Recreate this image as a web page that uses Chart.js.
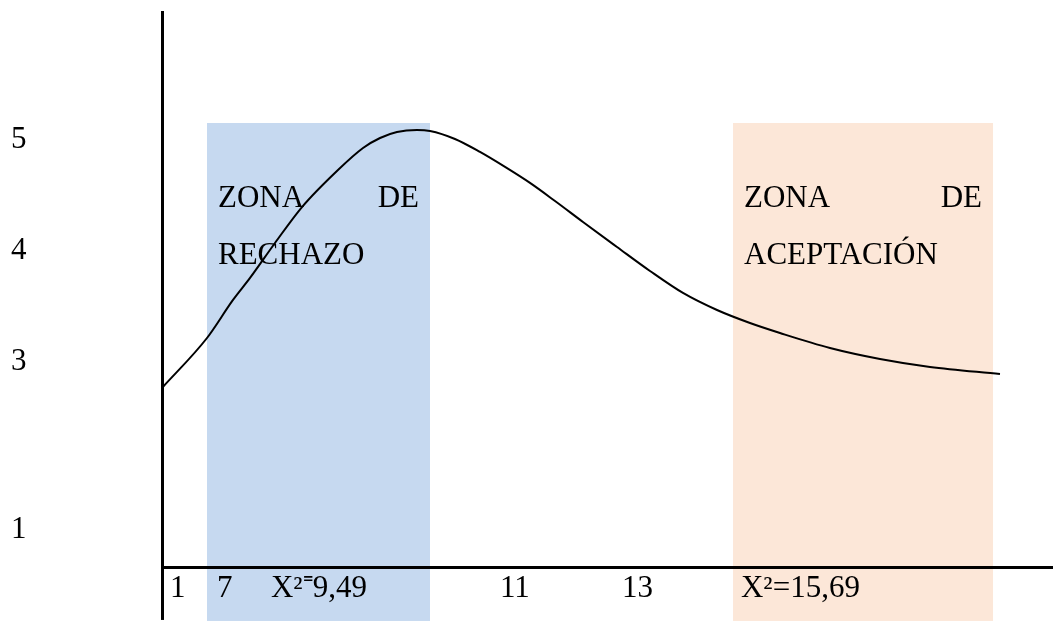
<!DOCTYPE html>
<html>
<head>
<meta charset="utf-8">
<script src="https://cdn.jsdelivr.net/npm/chart.js@4/dist/chart.umd.min.js"></script>
<style>
  html, body { margin: 0; padding: 0; background: #ffffff; }
  #wrap { width: 1053px; height: 621px; position: relative; }
</style>
</head>
<body>
<div id="wrap"><canvas id="c"></canvas></div>
<script>
// ---- data ----
const curveX = [0, 5.05, 7.97, 9.88, 12.68, 15.71, 19.75, 22.56, 24.47, 26.37, 28.62, 30.08, 32.88, 35.69, 38.50, 41.30, 44.11, 47.25, 51.07, 54.77, 58.47, 62.29, 65.99, 69.36, 74.97, 80.58, 86.20, 94.05];
const curveY = [2.766, 3.216, 3.559, 3.757, 4.072, 4.396, 4.730, 4.928, 5.018, 5.072, 5.090, 5.081, 5.009, 4.892, 4.757, 4.613, 4.450, 4.261, 4.036, 3.820, 3.622, 3.468, 3.351, 3.261, 3.126, 3.027, 2.955, 2.892];

const yTickValues = [5, 4, 3, 1.486];
const yTickLabels = ['5', '4', '3', '1'];

const xTickValues = [0.90, 6.17, 12.23, 37.93, 51.63, 64.98];
const xTickLabels = ['1', '7', 'X²⁼9,49', '11', '13', 'X²=15,69'];

const zoneNames = ['rechazo', 'aceptacion'];
const zoneStart = [5.05, 64.09];
const zoneEnd = [30.08, 93.27];
const zoneTop = [5.153, 5.153];
const zoneBottom = [0.667, 0.667];
const zoneLine1 = [['ZONA', 'DE'], ['ZONA', 'DE']];
const zoneLine2 = ['RECHAZO', 'ACEPTACIÓN'];
const zoneLine1Y = [4.396, 4.396];
const zoneLine2Y = [3.883, 3.883];

const axisExtendTo = 0.676;

// ---- styles ----
const FONT = "'Liberation Serif', 'Times New Roman', serif";
const FONT_SIZE = 31;
const zoneColors = ['#c6d9f0', '#fce7d8'];

const zonesPlugin = {
  id: 'zones',
  beforeDraw(chart) {
    const { ctx, scales: { x, y } } = chart;
    ctx.save();
    for (let i = 0; i < zoneStart.length; i++) {
      const l = x.getPixelForValue(zoneStart[i]);
      const r = x.getPixelForValue(zoneEnd[i]);
      const t = y.getPixelForValue(zoneTop[i]);
      const b = y.getPixelForValue(zoneBottom[i]);
      ctx.fillStyle = zoneColors[i];
      ctx.fillRect(l, t, r - l, b - t);
    }
    ctx.restore();
  },
  beforeDatasetsDraw(chart) {
    const { ctx, scales: { x, y } } = chart;
    ctx.save();
    ctx.font = FONT_SIZE + 'px ' + FONT;
    ctx.fillStyle = '#000';
    ctx.textBaseline = 'alphabetic';
    for (let i = 0; i < zoneStart.length; i++) {
      const l = x.getPixelForValue(zoneStart[i]) + 11;
      const r = x.getPixelForValue(zoneEnd[i]) - 11;
      const y1 = y.getPixelForValue(zoneLine1Y[i]);
      const y2 = y.getPixelForValue(zoneLine2Y[i]);
      ctx.textAlign = 'left';
      ctx.fillText(zoneLine1[i][0], l, y1);
      ctx.textAlign = 'right';
      ctx.fillText(zoneLine1[i][1], r, y1);
      ctx.textAlign = 'left';
      ctx.fillText(zoneLine2[i], l, y2);
    }
    ctx.restore();
  },
  afterDraw(chart) {
    const { ctx, chartArea, scales: { y } } = chart;
    ctx.save();
    ctx.strokeStyle = '#000';
    ctx.lineWidth = 3;
    ctx.beginPath();
    ctx.moveTo(chartArea.left + 0.5, chartArea.bottom);
    ctx.lineTo(chartArea.left + 0.5, y.getPixelForValue(axisExtendTo));
    ctx.stroke();
    ctx.restore();
  }
};

new Chart(document.getElementById('c'), {
  type: 'line',
  data: {
    datasets: [{
      data: curveX.map((v, i) => ({ x: v, y: curveY[i] })),
      borderColor: '#000',
      borderWidth: 2,
      pointRadius: 0,
      cubicInterpolationMode: 'monotone',
      fill: false,
      clip: false
    }]
  },
  options: {
    responsive: true,
    maintainAspectRatio: false,
    animation: false,
    layout: { padding: { left: 11, top: 12, right: 0, bottom: 0 } },
    plugins: { legend: { display: false }, tooltip: { enabled: false } },
    scales: {
      x: {
        type: 'linear',
        min: 0,
        max: 100,
        grid: { display: false, drawTicks: false },
        border: { display: true, color: '#000', width: 3, z: 1 },
        afterBuildTicks(scale) { scale.ticks = xTickValues.map(v => ({ value: v })); },
        afterFit(scale) { scale.height = 54; scale.paddingLeft = 0; scale.paddingRight = 0; },
        ticks: {
          align: 'start',
          padding: 3,
          autoSkip: false,
          maxRotation: 0,
          color: '#000',
          font: { family: FONT, size: FONT_SIZE },
          callback: (v, i) => xTickLabels[i]
        }
      },
      y: {
        type: 'linear',
        min: 1.153,
        max: 6.153,
        grid: { display: false, drawTicks: false },
        border: { display: true, color: '#000', width: 3, z: 1 },
        afterBuildTicks(scale) { scale.ticks = yTickValues.map(v => ({ value: v })); },
        afterFit(scale) { scale.width = 151; scale.paddingTop = 0; scale.paddingBottom = 0; },
        ticks: {
          crossAlign: 'far',
          padding: 0,
          autoSkip: false,
          color: '#000',
          font: { family: FONT, size: FONT_SIZE },
          callback: (v, i) => yTickLabels[i]
        }
      }
    }
  },
  plugins: [zonesPlugin]
});
</script>
</body>
</html>
